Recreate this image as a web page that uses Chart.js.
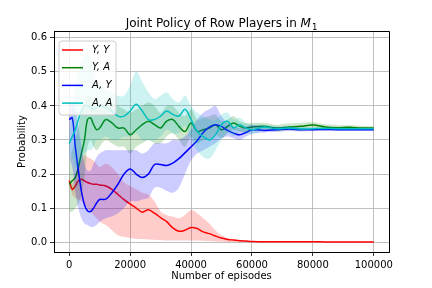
<!DOCTYPE html>
<html>
<head>
<meta charset="utf-8">
<script src="https://cdn.jsdelivr.net/npm/chart.js@4"></script>
<style>
  html, body { margin: 0; padding: 0; background: #fff; }
</style>
</head>
<body>
<canvas id="chart" width="432" height="288"></canvas>
<script>
const episodes = [0, 1000, 2000, 3000, 4000, 5000, 6000, 7000, 8000, 9000,
  10000, 12000, 14000, 16000, 18000, 20000, 22000, 24000, 26000, 28000,
  30000, 32000, 34000, 36000, 38000, 40000, 42000, 44000, 46000, 48000,
  50000, 52000, 54000, 56000, 58000, 60000,
  64000, 68000, 72000, 76000, 80000, 84000, 88000, 92000, 96000, 100000];

const yyMean = [0.18, 0.155, 0.165, 0.18, 0.185, 0.18, 0.175, 0.172, 0.17, 0.17,
  0.168, 0.165, 0.155, 0.14, 0.125, 0.112, 0.1, 0.088, 0.095, 0.085,
  0.072, 0.06, 0.042, 0.032, 0.035, 0.043, 0.04, 0.03, 0.025, 0.018,
  0.012, 0.008, 0.006, 0.004, 0.003, 0.002,
  0.001, 0.001, 0.001, 0.001, 0.001, 0.0005, 0.0005, 0.0005, 0.0003, 0.0003];
const yyHigh = [0.19, 0.17, 0.2, 0.22, 0.24, 0.255, 0.25, 0.245, 0.24, 0.23,
  0.22, 0.23, 0.22, 0.2, 0.175, 0.165, 0.155, 0.145, 0.14, 0.12,
  0.09, 0.08, 0.075, 0.07, 0.08, 0.094, 0.085, 0.07, 0.055, 0.035,
  0.02, 0.012, 0.008, 0.006, 0.004, 0.003,
  0.002, 0.002, 0.002, 0.002, 0.002, 0.001, 0.001, 0.001, 0.001, 0.001];
const yyLow = [0.17, 0.14, 0.13, 0.125, 0.12, 0.11, 0.1, 0.09, 0.08, 0.07,
  0.06, 0.05, 0.035, 0.02, 0.015, 0.012, 0.01, 0.009, 0.008, 0.007,
  0.006, 0.005, 0.005, 0.005, 0.005, 0.005, 0.005, 0.004, 0.003, 0.002,
  0.001, 0, 0, 0, 0, 0,
  0, 0, 0, 0, 0, 0, 0, 0, 0, 0];

const yaMean = [0.17, 0.18, 0.19, 0.22, 0.26, 0.3, 0.36, 0.365, 0.345, 0.33,
  0.335, 0.36, 0.35, 0.335, 0.335, 0.315, 0.33, 0.345, 0.355, 0.345,
  0.335, 0.355, 0.36, 0.34, 0.325, 0.35, 0.325, 0.33, 0.335, 0.345,
  0.33, 0.34, 0.35, 0.34, 0.335, 0.338,
  0.34, 0.335, 0.338, 0.34, 0.344, 0.338, 0.336, 0.337, 0.335, 0.335];
const yaHigh = [0.24, 0.27, 0.3, 0.34, 0.38, 0.41, 0.43, 0.43, 0.41, 0.39,
  0.39, 0.42, 0.41, 0.4, 0.39, 0.38, 0.39, 0.4, 0.41, 0.4,
  0.38, 0.4, 0.4, 0.38, 0.37, 0.39, 0.36, 0.365, 0.37, 0.375,
  0.355, 0.36, 0.37, 0.355, 0.35, 0.35,
  0.35, 0.345, 0.348, 0.35, 0.352, 0.346, 0.344, 0.343, 0.341, 0.34];
const yaLow = [0.09, 0.09, 0.1, 0.11, 0.14, 0.19, 0.28, 0.3, 0.28, 0.27,
  0.28, 0.3, 0.29, 0.28, 0.28, 0.26, 0.28, 0.29, 0.3, 0.29,
  0.29, 0.31, 0.32, 0.3, 0.28, 0.31, 0.29, 0.3, 0.3, 0.315,
  0.305, 0.32, 0.33, 0.325, 0.32, 0.326,
  0.33, 0.325, 0.328, 0.33, 0.336, 0.33, 0.328, 0.331, 0.329, 0.33];

const ayMean = [0.36, 0.365, 0.28, 0.21, 0.15, 0.11, 0.092, 0.09, 0.1, 0.115,
  0.125, 0.126, 0.145, 0.17, 0.2, 0.215, 0.2, 0.19, 0.2, 0.228,
  0.228, 0.225, 0.232, 0.245, 0.262, 0.28, 0.298, 0.322, 0.338, 0.345,
  0.34, 0.328, 0.32, 0.315, 0.322, 0.33,
  0.328, 0.33, 0.332, 0.33, 0.33, 0.331, 0.33, 0.33, 0.33, 0.33];
const ayHigh = [0.4, 0.41, 0.39, 0.34, 0.28, 0.23, 0.21, 0.21, 0.23, 0.25,
  0.26, 0.27, 0.27, 0.27, 0.27, 0.27, 0.27, 0.26, 0.27, 0.29,
  0.29, 0.29, 0.3, 0.3, 0.31, 0.33, 0.36, 0.38, 0.39, 0.4,
  0.37, 0.35, 0.34, 0.335, 0.34, 0.345,
  0.34, 0.338, 0.338, 0.336, 0.335, 0.335, 0.334, 0.334, 0.334, 0.334];
const ayLow = [0.25, 0.22, 0.15, 0.1, 0.07, 0.055, 0.05, 0.045, 0.045, 0.05,
  0.06, 0.07, 0.075, 0.085, 0.1, 0.12, 0.12, 0.125, 0.13, 0.16,
  0.16, 0.15, 0.145, 0.16, 0.2, 0.24, 0.26, 0.27, 0.28, 0.29,
  0.305, 0.31, 0.305, 0.3, 0.31, 0.318,
  0.322, 0.324, 0.326, 0.325, 0.326, 0.327, 0.327, 0.327, 0.327, 0.327];

const aaMean = [0.29, 0.31, 0.33, 0.36, 0.385, 0.4, 0.4, 0.395, 0.39, 0.395,
  0.4, 0.395, 0.385, 0.37, 0.37, 0.385, 0.405, 0.385, 0.36, 0.36,
  0.37, 0.385, 0.375, 0.37, 0.39, 0.36, 0.325, 0.31, 0.3, 0.315,
  0.345, 0.355, 0.335, 0.345, 0.335, 0.33,
  0.338, 0.333, 0.335, 0.332, 0.333, 0.334, 0.333, 0.333, 0.333, 0.333];
const aaHigh = [0.32, 0.38, 0.45, 0.5, 0.53, 0.55, 0.56, 0.54, 0.5, 0.47,
  0.46, 0.45, 0.44, 0.43, 0.43, 0.46, 0.5, 0.47, 0.44, 0.42,
  0.43, 0.44, 0.42, 0.41, 0.43, 0.4, 0.38, 0.37, 0.36, 0.36,
  0.375, 0.38, 0.36, 0.365, 0.35, 0.345,
  0.345, 0.34, 0.34, 0.338, 0.338, 0.337, 0.337, 0.336, 0.336, 0.336];
const aaLow = [0.26, 0.25, 0.22, 0.22, 0.24, 0.26, 0.27, 0.27, 0.28, 0.3,
  0.3, 0.31, 0.3, 0.3, 0.31, 0.31, 0.32, 0.3, 0.3, 0.3,
  0.31, 0.33, 0.32, 0.32, 0.34, 0.3, 0.27, 0.25, 0.245, 0.27,
  0.3, 0.32, 0.31, 0.325, 0.32, 0.318,
  0.328, 0.328, 0.33, 0.328, 0.33, 0.331, 0.33, 0.33, 0.33, 0.33];

const seriesLabels = ['Y, Y', 'Y, A', 'A, Y', 'A, A'];
const xTicks = [0, 20000, 40000, 60000, 80000, 100000];
const yTicks = [0, 0.1, 0.2, 0.3, 0.4, 0.5, 0.6];
const titleText = 'Joint Policy of Row Players in ';

const FONT = 'DejaVu Sans';

const series = [
  { label: seriesLabels[0], color: '#ff0000', band: 'rgba(255,0,0,0.2)', mean: yyMean, low: yyLow, high: yyHigh },
  { label: seriesLabels[1], color: '#008000', band: 'rgba(0,128,0,0.2)', mean: yaMean, low: yaLow, high: yaHigh },
  { label: seriesLabels[2], color: '#0000ff', band: 'rgba(0,0,255,0.2)', mean: ayMean, low: ayLow, high: ayHigh },
  { label: seriesLabels[3], color: '#00bfbf', band: 'rgba(0,191,191,0.2)', mean: aaMean, low: aaLow, high: aaHigh }
];

const toPts = arr => arr.map((v, i) => ({ x: episodes[i], y: v }));

const datasets = [];
series.forEach((s, k) => {
    const base = datasets.length;
    const ord = 2 * (3 - k);
    datasets.push({
        label: s.label, data: toPts(s.mean), borderColor: s.color, borderWidth: 1.5,
        pointRadius: 0, fill: false, tension: 0.35, order: ord
    });
    datasets.push({
        data: toPts(s.high), borderColor: 'rgba(0,0,0,0)', borderWidth: 0, pointRadius: 0,
        backgroundColor: s.band, fill: base + 2, tension: 0.35, order: ord + 1
    });
    datasets.push({
        data: toPts(s.low), borderColor: 'rgba(0,0,0,0)', borderWidth: 0, pointRadius: 0,
        fill: false, tension: 0.35, order: ord + 1
    });
});

// titulo con subindice, marco superior/derecho y leyenda estilo matplotlib
const decor = {
    id: 'decor',
    afterDraw(chart) {
        const { ctx, chartArea: a } = chart;
        ctx.save();

        ctx.strokeStyle = '#000';
        ctx.lineWidth = 1;
        ctx.beginPath();
        ctx.moveTo(Math.round(a.left), Math.round(a.top) + 0.5);
        ctx.lineTo(Math.round(a.right) + 0.5, Math.round(a.top) + 0.5);
        ctx.lineTo(Math.round(a.right) + 0.5, Math.round(a.bottom));
        ctx.stroke();

        // titulo
        ctx.fillStyle = '#000';
        ctx.textBaseline = 'alphabetic';
        ctx.font = `12px "${FONT}"`;
        const w1 = ctx.measureText(titleText).width;
        ctx.font = `italic 12px "${FONT}"`;
        const w2 = ctx.measureText('M').width;
        ctx.font = `8.5px "${FONT}"`;
        const w3 = ctx.measureText('1').width;
        let tx = (a.left + a.right) / 2 - (w1 + w2 + w3 + 1) / 2;
        const ty = 27;
        ctx.font = `12px "${FONT}"`;
        ctx.fillText(titleText, tx, ty);
        tx += w1;
        ctx.font = `italic 12px "${FONT}"`;
        ctx.fillText('M', tx, ty);
        tx += w2 + 1;
        ctx.font = `8.5px "${FONT}"`;
        ctx.fillText('1', tx, ty + 3);

        // leyenda
        const lx = a.left + 5, ly = a.top + 10, lw = 57, lh = 74, r = 3;
        ctx.beginPath();
        ctx.moveTo(lx + r, ly);
        ctx.arcTo(lx + lw, ly, lx + lw, ly + lh, r);
        ctx.arcTo(lx + lw, ly + lh, lx, ly + lh, r);
        ctx.arcTo(lx, ly + lh, lx, ly, r);
        ctx.arcTo(lx, ly, lx + lw, ly, r);
        ctx.closePath();
        ctx.fillStyle = 'rgba(255,255,255,0.8)';
        ctx.fill();
        ctx.strokeStyle = '#cccccc';
        ctx.lineWidth = 1;
        ctx.stroke();

        ctx.font = `italic 10px "${FONT}"`;
        ctx.textBaseline = 'middle';
        series.forEach((s, i) => {
            const y = ly + 9 + i * 17.7;
            ctx.strokeStyle = s.color;
            ctx.lineWidth = 1.5;
            ctx.beginPath();
            ctx.moveTo(lx + 3, y);
            ctx.lineTo(lx + 24, y);
            ctx.stroke();
            ctx.fillStyle = '#000';
            ctx.fillText(s.label, lx + 33, y);
        });
        ctx.restore();
    }
};

const tickFont = { family: FONT, size: 10 };

new Chart(document.getElementById('chart'), {
    type: 'line',
    data: { datasets },
    options: {
        responsive: false,
        animation: false,
        layout: { padding: { left: 0, right: 43, top: 31, bottom: 0 } },
        plugins: { legend: { display: false }, tooltip: { enabled: false } },
        scales: {
            x: {
                type: 'linear', min: -5000, max: 105000,
                afterBuildTicks: s => { s.ticks = xTicks.map(v => ({ value: v })); },
                afterFit: s => { s.height = 36; },
                ticks: { color: '#000', font: tickFont, padding: 3, maxRotation: 0, autoSkip: false, callback: v => String(v) },
                grid: { color: '#b0b0b0', lineWidth: 0.8, tickColor: '#000', tickLength: 4 },
                border: { display: true, color: '#000', width: 1 },
                title: { display: true, text: 'Number of episodes', color: '#000', font: tickFont, padding: { top: 0, bottom: 6 } }
            },
            y: {
                min: -0.029, max: 0.62,
                afterBuildTicks: s => { s.ticks = yTicks.map(v => ({ value: v })); },
                afterFit: s => { s.width = 54; },
                ticks: { color: '#000', font: tickFont, padding: 3, autoSkip: false, callback: v => v.toFixed(1) },
                grid: { color: '#b0b0b0', lineWidth: 0.8, tickColor: '#000', tickLength: 4 },
                border: { display: true, color: '#000', width: 1 },
                title: { display: true, text: 'Probability', color: '#000', font: tickFont, padding: { top: 16, bottom: 0 } }
            }
        }
    },
    plugins: [decor]
});
</script>
</body>
</html>
